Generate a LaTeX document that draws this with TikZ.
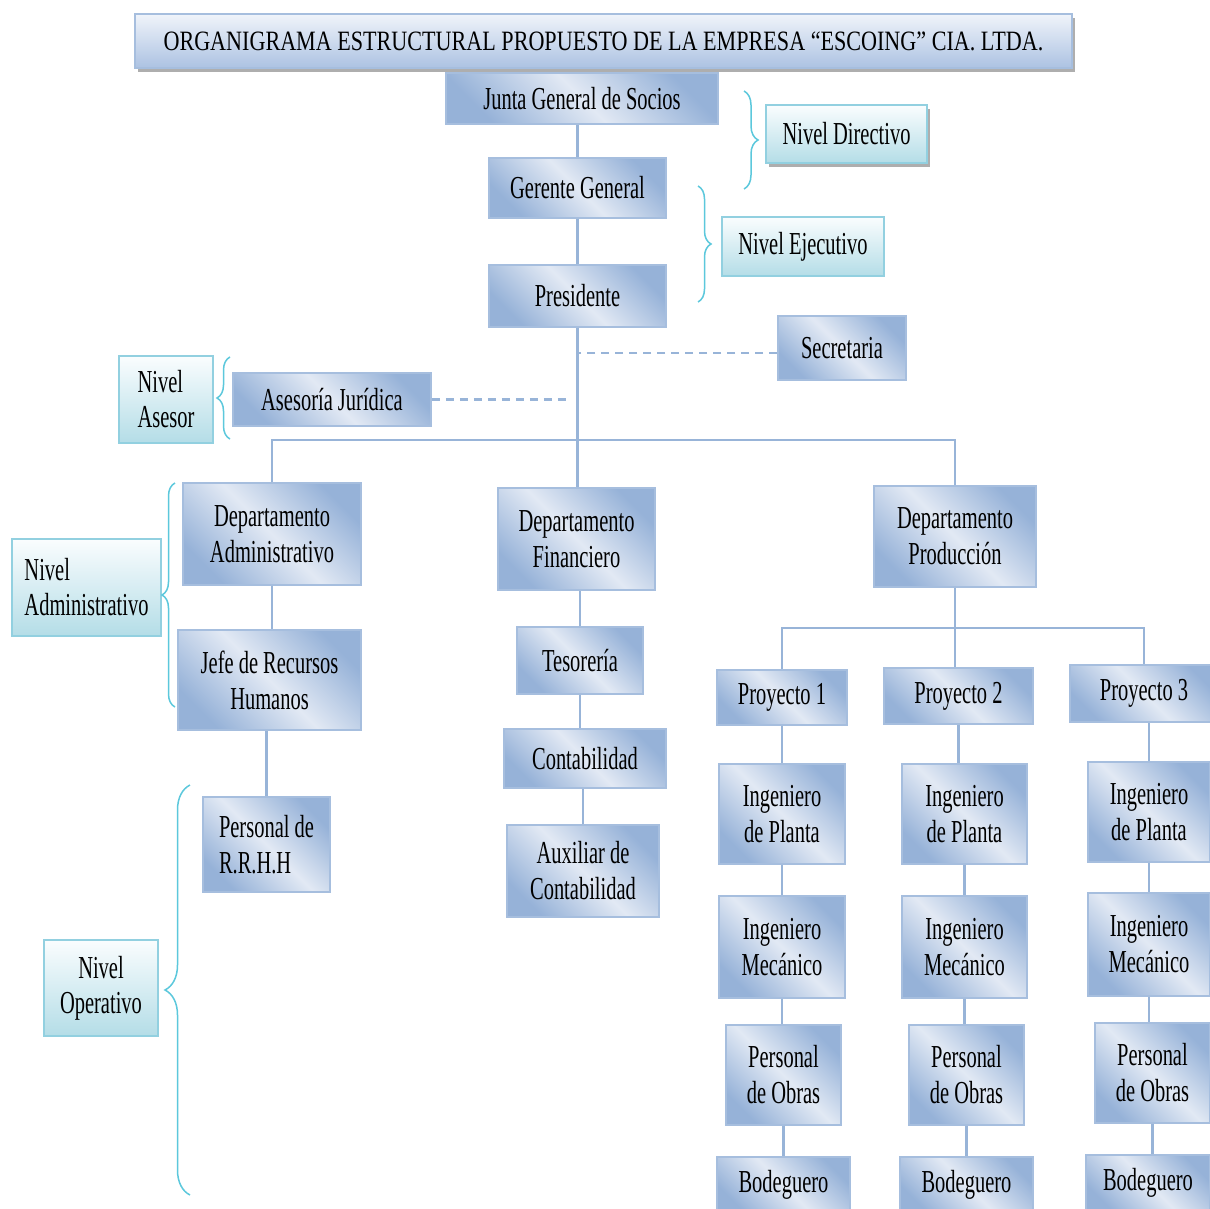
\documentclass[tikz,border=0pt]{standalone}
\usepackage{fontspec}
\setmainfont{Liberation Serif}[FakeStretch=0.64]
\newfontfamily\titlefont{Liberation Serif}[FakeStretch=0.79]
\usetikzlibrary{decorations.pathreplacing,shadows}

\definecolor{boxdark}{RGB}{150,178,216}
\definecolor{boxlight}{RGB}{226,233,244}
\definecolor{boxline}{RGB}{166,190,222}
\definecolor{linkcol}{RGB}{152,180,216}
\definecolor{levtop}{RGB}{250,253,254}
\definecolor{levbot}{RGB}{180,221,231}
\definecolor{levline}{RGB}{146,208,224}
\definecolor{bracecol}{RGB}{92,200,220}
\definecolor{titletop}{RGB}{240,244,250}
\definecolor{titlebot}{RGB}{172,194,226}

\begin{document}
\begin{tikzpicture}[x=1pt,y=-1pt,
  sz/.style 2 args={minimum width=#1, minimum height=#2},
  unit/.style={draw=boxline, line width=1.6pt, inner sep=0pt, align=center,
    top color=boxdark, bottom color=boxdark, middle color=boxlight,
    shading angle=-45, font=\fontsize{32}{36}\selectfont},
  level/.style={draw=levline, line width=1.6pt, inner sep=0pt, align=center,
    top color=levtop, bottom color=levbot, font=\fontsize{32}{35}\selectfont},
  link/.style={draw=linkcol, line width=2.6pt},
  dlink/.style={draw=linkcol, line width=2.4pt, dash pattern=on 8pt off 6pt},
  lbrace/.style={draw=bracecol, line width=1.5pt, decorate,
    decoration={brace, amplitude=#1}},
  boxshadow/.style={drop shadow={shadow xshift=3pt, shadow yshift=-4pt,
    fill=black!45, opacity=0.7}},
]
\useasboundingbox (0,0) rectangle (1210,1209);
\fill[white] (0,0) rectangle (1210,1209);

% title
\node[boxshadow, draw=boxline, line width=1.6pt, inner sep=0pt,
  top color=titletop, bottom color=titlebot, sz={937}{54},
  font=\titlefont\fontsize{28}{30}\selectfont]
  (title) at (603.5,41) {ORGANIGRAMA ESTRUCTURAL PROPUESTO DE LA EMPRESA “ESCOING” CIA. LTDA.};

% upper management
\node[unit, sz={272}{51}] (junta) at (582,98.5) {Junta General de Socios};
\node[unit, sz={177}{60}] (gerente) at (577.5,188) {Gerente General};
\node[unit, sz={177}{62}] (pres) at (577.5,296) {Presidente};
\node[unit, sz={128}{64}] (secr) at (842,348) {Secretaria};
\node[unit, sz={198}{53}] (ases) at (332,399.5) {Asesoría Jurídica};

% levels
\node[level, boxshadow, sz={161}{58}] (ndir) at (846.5,134) {Nivel Directivo};
\node[level, sz={162}{59}] (neje) at (803,246.5) {Nivel Ejecutivo};
\node[level, align=left, sz={94}{87}] (nase) at (166,399.5) {Nivel\\Asesor};
\node[level, align=left, sz={149}{97}] (nadm) at (86.5,587.5) {Nivel\\Administrativo};
\node[level, sz={114}{96}] (nope) at (101,988) {Nivel\\Operativo};

% departments
\node[unit, sz={178}{102}] (dadm) at (272,534) {Departamento\\Administrativo};
\node[unit, sz={157}{102}] (dfin) at (576.5,539) {Departamento\\Financiero};
\node[unit, sz={162}{101}] (dpro) at (955,536.5) {Departamento\\Producción};

% administration branch
\node[unit, sz={183}{100}] (jefe) at (269.5,680) {Jefe de Recursos\\Humanos};
\node[unit, align=left, sz={127}{95}] (prrhh) at (266.5,844.5) {Personal de\\R.R.H.H};

% finance branch
\node[unit, sz={126}{67}] (teso) at (580,660.5) {Tesorería};
\node[unit, sz={162}{59}] (cont) at (585,758.5) {Contabilidad};
\node[unit, sz={152}{92}] (aux) at (583,871) {Auxiliar de\\Contabilidad};

% production branch
\node[unit, sz={130}{55}] (p1) at (782,697.5) {Proyecto 1};
\node[unit, sz={149}{56}] (p2) at (958.5,696) {Proyecto 2};
\node[unit, sz={148}{57}] (p3) at (1144,693.5) {Proyecto 3};
\node[unit, sz={126}{100}] (ip1) at (782,814) {Ingeniero\\de Planta};
\node[unit, sz={125}{100}] (ip2) at (964.5,814) {Ingeniero\\de Planta};
\node[unit, sz={122}{100}] (ip3) at (1149,812) {Ingeniero\\de Planta};
\node[unit, sz={126}{102}] (im1) at (782,947) {Ingeniero\\Mecánico};
\node[unit, sz={125}{102}] (im2) at (964.5,947) {Ingeniero\\Mecánico};
\node[unit, sz={122}{103}] (im3) at (1149,944.5) {Ingeniero\\Mecánico};
\node[unit, sz={115}{100}] (po1) at (783.5,1075) {Personal\\de Obras};
\node[unit, sz={115}{100}] (po2) at (966.5,1075) {Personal\\de Obras};
\node[unit, sz={115}{100}] (po3) at (1152.5,1073) {Personal\\de Obras};
\node[unit, sz={133}{56}] (b1) at (783.5,1185) {Bodeguero};
\node[unit, sz={133}{56}] (b2) at (966.5,1185) {Bodeguero};
\node[unit, sz={124}{56}] (b3) at (1148,1183) {Bodeguero};

% connectors
\draw[link] (gerente.north) -- (gerente.north |- junta.south);
\draw[link] (gerente.south) -- (gerente.south |- pres.north);
\draw[link, line width=3.6pt] (pres.south) -- (pres.south |- dfin.north);
\draw[dlink] ([yshift=-5pt]secr.west) -- ([yshift=-5pt]secr.west -| pres.south);
\draw[dlink] (ases.east) -- ([xshift=-7pt]ases.east -| pres.south);
\coordinate (topbar) at (577.5,440);
\draw[link] (dadm.north) |- (topbar) -| (dpro.north);
\draw[link] (dadm.south) -- (dadm.south |- jefe.north);
\draw[link] (prrhh.north) -- (prrhh.north |- jefe.south);
\draw[link] (teso.north) -- (teso.north |- dfin.south);
\draw[link] (teso.south) -- (teso.south |- cont.north);
\draw[link] (aux.north) -- (aux.north |- cont.south);
\coordinate (projbar) at (955,628);
\draw[link] (p1.north) |- (projbar) -| (p3.north);
\draw[link] (dpro.south) -- (dpro.south |- p2.north);
\draw[link] (p1.south) -- (p1.south |- ip1.north);
\draw[link] (ip1.south) -- (ip1.south |- im1.north);
\draw[link] (im1.south) -- (im1.south |- po1.north);
\draw[link] (po1.south) -- (po1.south |- b1.north);
\draw[link] (p2.south) -- (p2.south |- ip2.north);
\draw[link] (ip2.south) -- (ip2.south |- im2.north);
\draw[link] (im2.south) -- (im2.south |- po2.north);
\draw[link] (po2.south) -- (po2.south |- b2.north);
\draw[link] (ip3.north) -- (ip3.north |- p3.south);
\draw[link] (ip3.south) -- (ip3.south |- im3.north);
\draw[link] (im3.south) -- (im3.south |- po3.north);
\draw[link] (po3.south) -- (po3.south |- b3.north);

% level braces
\draw[lbrace=14pt] (744,91) -- (744,189);
\draw[lbrace=13pt] (698,186) -- (698,302);
\draw[lbrace=13pt] (230,439) -- (230,357);
\draw[lbrace=13pt] (175,707) -- (175,483);
\draw[lbrace=25pt] (190,1195) -- (190,785);
\end{tikzpicture}
\end{document}
